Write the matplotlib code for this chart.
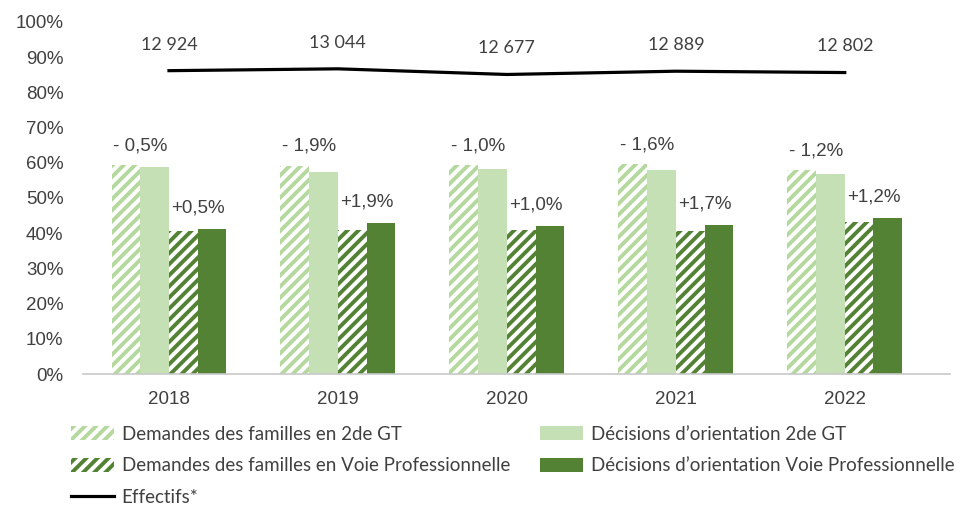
import numpy as np
import matplotlib.pyplot as plt

annees = ['2018', '2019', '2020', '2021', '2022']
demandes_gt = [59.3, 59.2, 59.3, 59.6, 57.9]
decisions_gt = [58.8, 57.3, 58.3, 58.0, 56.7]
demandes_vp = [40.7, 41.0, 41.0, 40.7, 43.2]
decisions_vp = [41.2, 42.9, 42.0, 42.4, 44.4]
ecarts_gt = ['- 0,5%', '- 1,9%', '- 1,0%', '- 1,6%', '- 1,2%']
ecarts_vp = ['+0,5%', '+1,9%', '+1,0%', '+1,7%', '+1,2%']
effectifs = [12924, 13044, 12677, 12889, 12802]
effectifs_txt = ['12 924', '13 044', '12 677', '12 889', '12 802']

vert_clair = '#c5e0b4'
vert_hachure = '#b4d89e'
vert_fonce = '#548235'
gris = '#404040'

plt.rcParams['hatch.linewidth'] = 2.8
plt.rcParams['font.family'] = ['Liberation Sans', 'DejaVu Sans']

fig = plt.figure(figsize=(9.63, 5.07), dpi=100)
ax = fig.add_axes([0.086, 0.262, 0.90, 0.695])

x = np.arange(len(annees))
w = 0.17

b1 = ax.bar(x - 1.5 * w, demandes_gt, w, color='white', edgecolor=vert_hachure,
            hatch='///', linewidth=0, label='Demandes des familles en 2de GT')
b2 = ax.bar(x - 0.5 * w, decisions_gt, w, color=vert_clair,
            label='Décisions d\u2019orientation 2de GT')
b3 = ax.bar(x + 0.5 * w, demandes_vp, w, color='white', edgecolor=vert_fonce,
            hatch='///', linewidth=0, label='Demandes des familles en Voie Professionnelle')
b4 = ax.bar(x + 1.5 * w, decisions_vp, w, color=vert_fonce,
            label='Décisions d\u2019orientation Voie Professionnelle')

# étiquettes des écarts
for i in range(len(annees)):
    ax.annotate(ecarts_gt[i], (x[i] - w, max(demandes_gt[i], decisions_gt[i])),
                xytext=(0, 8), textcoords='offset points', ha='center', va='bottom',
                fontsize=13.5, color=gris)
    ax.annotate(ecarts_vp[i], (x[i] + w, max(demandes_vp[i], decisions_vp[i])),
                xytext=(0, 9), textcoords='offset points', ha='center', va='bottom',
                fontsize=13.5, color=gris)

ax.set_ylim(0, 100)
ax.set_xlim(-0.51, 4.62)
ax.set_yticks(np.arange(0, 101, 10))
ax.set_yticklabels([f'{v}%' for v in range(0, 101, 10)])
ax.set_xticks(x)
ax.set_xticklabels(annees)
ax.tick_params(axis='both', length=0, labelsize=13.5, colors=gris)
ax.tick_params(axis='y', pad=14)
ax.tick_params(axis='x', pad=12)
for s in ['top', 'right', 'left']:
    ax.spines[s].set_visible(False)
ax.spines['bottom'].set_color('#c8c8c8')
ax.spines['bottom'].set_linewidth(1.2)

# effectifs sur un axe secondaire caché
ax2 = ax.twinx()
l1, = ax2.plot(x, effectifs, color='black', linewidth=2.3, label='Effectifs*')
ax2.set_ylim(-6800, 16100)
ax2.axis('off')
for i in range(len(annees)):
    ax2.annotate(effectifs_txt[i], (x[i], effectifs[i]), xytext=(0, 13),
                 textcoords='offset points', ha='center', va='bottom',
                 fontsize=13, color=gris, family=['Lato', 'DejaVu Sans'])

handles = [b1, b3, l1, b2, b4]
fig.legend(handles=handles, labels=[h.get_label() for h in handles],
           loc='upper left', bbox_to_anchor=(0.066, 0.175), ncol=2, frameon=False,
           prop={'family': ['Lato', 'DejaVu Sans'], 'size': 13.5},
           labelcolor=gris, handlelength=2.3, handleheight=0.75, handletextpad=0.4,
           columnspacing=1.6, labelspacing=0.78, borderaxespad=0)

fig.savefig('out.png', dpi=100)
